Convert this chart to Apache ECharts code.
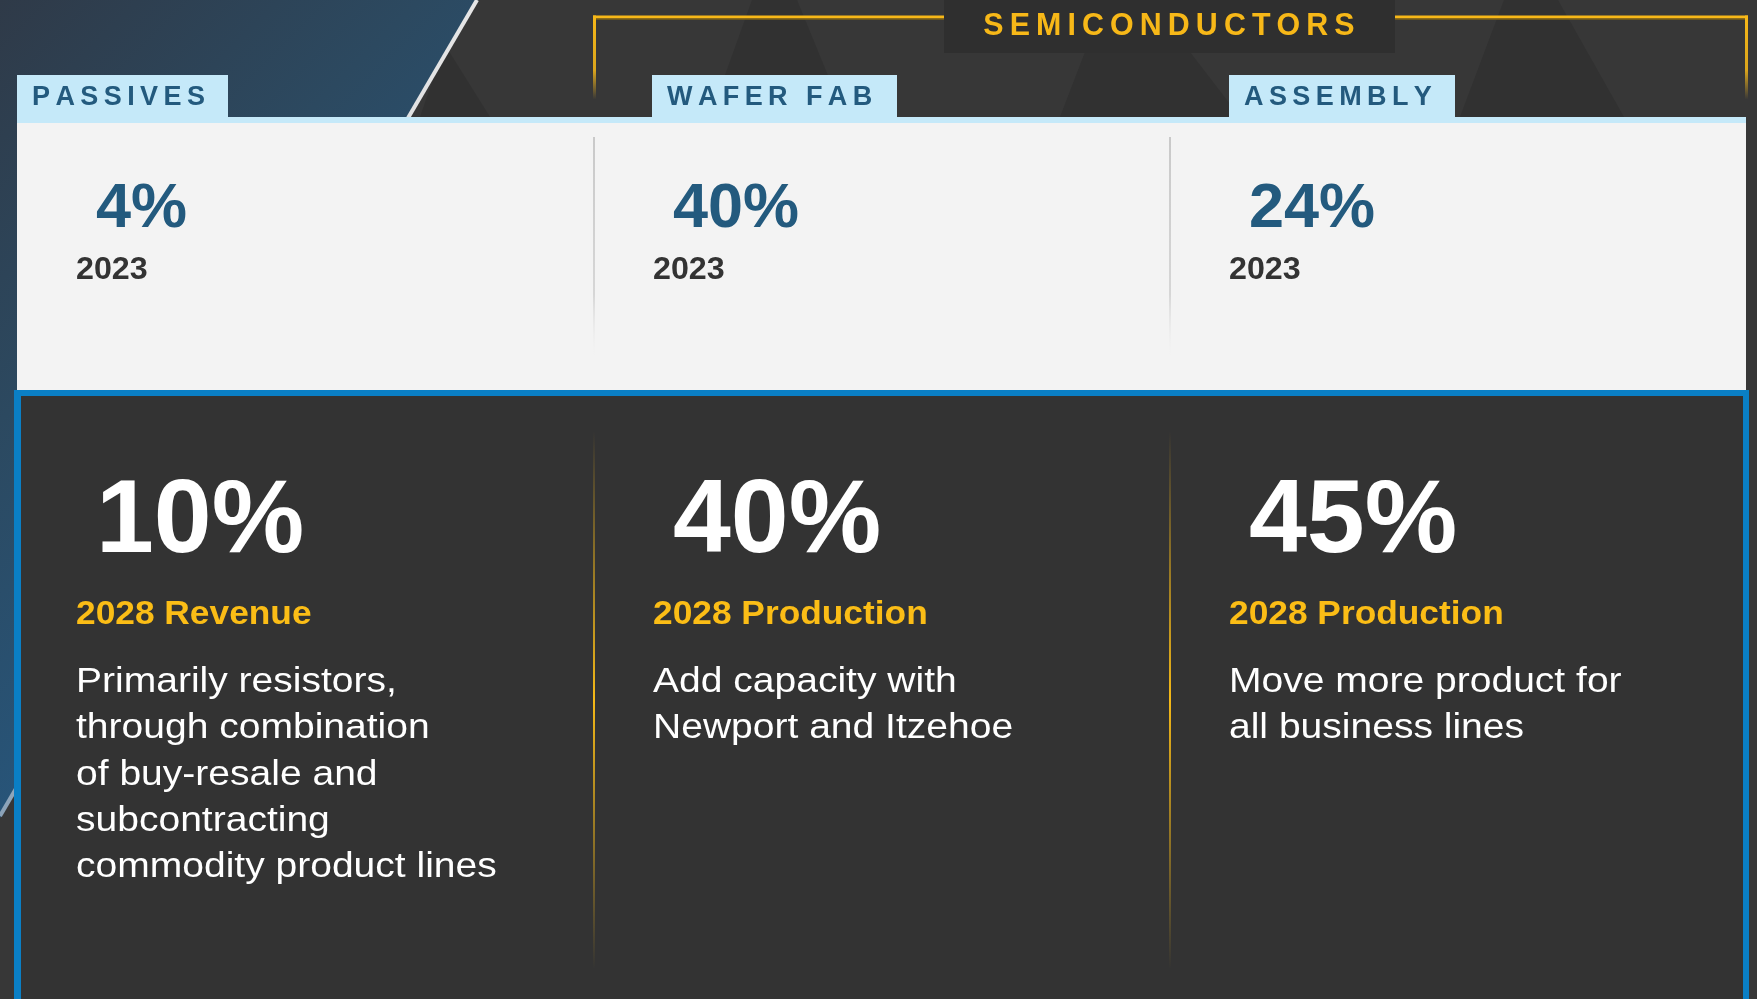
<!DOCTYPE html>
<html lang="en">
<head>
<meta charset="UTF-8">
<title>Passives and semiconductors</title>
<script src="https://cdn.jsdelivr.net/npm/echarts@6.0.0/dist/echarts.min.js"></script>
<style>
  html, body { margin: 0; padding: 0; background: #373737; }
  #main { width: 1757px; height: 999px; }
</style>
</head>
<body>
<div id="main"></div>
<script>
// values
var segments = ['PASSIVES', 'WAFER FAB', 'ASSEMBLY'];
var groupTitle = 'SEMICONDUCTORS';
var share2023 = [4, 40, 24];
var yearLabel = '2023';
var share2028 = [10, 40, 45];
var measures2028 = ['2028 Revenue', '2028 Production', '2028 Production'];
var notes = [
  ['Primarily resistors,', 'through combination', 'of buy-resale and', 'subcontracting', 'commodity product lines'],
  ['Add capacity with', 'Newport and Itzehoe'],
  ['Move more product for', 'all business lines']
];

// layout
var colLeft = [76, 653, 1229];
var tabLeft = [17, 652, 1229];
var tabWidth = [211, 245, 226];
var dividerX = [594, 1170];
var FONT = '"Liberation Sans", Arial, Helvetica, sans-serif';
var GOLD = '#f7b818';
var BLUE_TXT = '#235a7e';

function spaced(s) {
  // wide tracking for the caps headings
  return s.split('').join('\u2009');
}

function label(x, base, text, size, color, weight, opts) {
  opts = opts || {};
  var el = {
    type: 'text',
    x: x,
    y: base + 3 - 0.36 * size,
    style: {
      text: text,
      fill: color,
      font: weight + ' ' + size + 'px ' + FONT,
      align: opts.align || 'left',
      textAlign: opts.align || 'left',
      verticalAlign: 'middle',
      textVerticalAlign: 'middle'
    }
  };
  if (opts.scaleX) el.scaleX = opts.scaleX;
  return el;
}

var els = [];

// background and faint triangles
els.push({ type: 'rect', shape: { x: 0, y: 0, width: 1757, height: 999 }, style: { fill: '#373737' } });
[
  [[752, 0], [797, 0], [845, 117], [710, 117]],
  [[1105, 0], [1150, 0], [1240, 117], [1060, 117]],
  [[1504, 0], [1558, 0], [1624, 117], [1460, 117]],
  [[445, 45], [490, 117], [420, 117]]
].forEach(function (pts) {
  els.push({ type: 'polygon', shape: { points: pts }, style: { fill: '#313131' } });
});

// blue wedge on the left + diagonal line
els.push({
  type: 'polygon',
  shape: { points: [[0, 0], [478, 0], [0, 818]] },
  style: {
    fill: new echarts.graphic.LinearGradient(0, 0, 420, 420, [
      { offset: 0, color: '#2f3a48' },
      { offset: 0.5, color: '#2c4960' },
      { offset: 1, color: '#27557a' }
    ], true)
  }
});
els.push({
  type: 'line',
  shape: { x1: 477, y1: 0, x2: 0, y2: 816 },
  style: {
    lineWidth: 4,
    stroke: new echarts.graphic.LinearGradient(477, 0, 0, 816, [
      { offset: 0, color: '#e6e6e6' },
      { offset: 0.6, color: '#d0d4d8' },
      { offset: 1, color: '#8aa2b8' }
    ], true)
  }
});

// SEMICONDUCTORS header and bracket
els.push({ type: 'rect', shape: { x: 944, y: 0, width: 451, height: 53 }, style: { fill: '#2f2f2f' } });
els.push({ type: 'rect', shape: { x: 593, y: 15.5, width: 351, height: 3 }, style: { fill: GOLD } });
els.push({ type: 'rect', shape: { x: 1395, y: 15.5, width: 353, height: 3 }, style: { fill: GOLD } });
els.push({ type: 'rect', shape: { x: 596, y: 18.5, width: 348, height: 1.2 }, style: { fill: '#7d6115' } });
els.push({ type: 'rect', shape: { x: 1395, y: 18.5, width: 350, height: 1.2 }, style: { fill: '#7d6115' } });
[593, 1745].forEach(function (x) {
  els.push({
    type: 'rect',
    shape: { x: x, y: 15.5, width: 3, height: 84 },
    style: {
      fill: new echarts.graphic.LinearGradient(0, 0, 0, 1, [
        { offset: 0, color: GOLD },
        { offset: 0.65, color: 'rgba(247,184,24,0.85)' },
        { offset: 1, color: 'rgba(247,184,24,0)' }
      ])
    }
  });
});
els.push(label(1169, 35, spaced(groupTitle), 32, GOLD, 'bold', { align: 'center', scaleX: 0.95 }));

// top light panel
els.push({ type: 'rect', shape: { x: 17, y: 117, width: 1729, height: 7 }, style: { fill: '#c5e9f9' } });
els.push({ type: 'rect', shape: { x: 17, y: 123, width: 1729, height: 268 }, style: { fill: '#f3f3f3' } });
dividerX.forEach(function (x) {
  els.push({
    type: 'rect',
    shape: { x: x - 1, y: 137, width: 2, height: 225 },
    style: {
      fill: new echarts.graphic.LinearGradient(0, 0, 0, 1, [
        { offset: 0, color: '#c9c9c9' },
        { offset: 0.7, color: '#d6d6d6' },
        { offset: 1, color: 'rgba(243,243,243,0)' }
      ])
    }
  });
});

// lower dark box with blue frame
els.push({ type: 'rect', shape: { x: 14, y: 390, width: 1735, height: 620 }, style: { fill: '#0a7fc5' } });
els.push({ type: 'rect', shape: { x: 21, y: 396, width: 1722, height: 620 }, style: { fill: '#333333' } });
dividerX.forEach(function (x) {
  els.push({
    type: 'rect',
    shape: { x: x - 1, y: 431, width: 2, height: 538 },
    style: {
      fill: new echarts.graphic.LinearGradient(0, 0, 0, 1, [
        { offset: 0, color: 'rgba(245,185,23,0)' },
        { offset: 0.5, color: '#f5b917' },
        { offset: 1, color: 'rgba(245,185,23,0)' }
      ])
    }
  });
});

// columns
segments.forEach(function (name, i) {
  var x = colLeft[i];
  els.push({ type: 'rect', shape: { x: tabLeft[i], y: 75, width: tabWidth[i], height: 43 }, style: { fill: '#c5e9f9' } });
  els.push(label(tabLeft[i] + 15, 104, spaced(name), 27, BLUE_TXT, 'bold', { scaleX: 1.0 }));

  els.push(label(x + 20, 229, share2023[i] + '%', 63, BLUE_TXT, 'bold'));
  els.push(label(x, 279, yearLabel, 31, '#333333', 'bold', { scaleX: 1.04 }));

  els.push(label(x + 20, 558, share2028[i] + '%', 104, '#ffffff', 'bold'));
  els.push(label(x, 624, measures2028[i], 33, '#fbbd16', 'bold', { scaleX: 1.07 }));
  notes[i].forEach(function (line, k) {
    els.push(label(x, 692 + k * 46.3, line, 35, '#ffffff', 'normal', { scaleX: 1.115 }));
  });
});

var myChart = echarts.init(document.getElementById('main'), null, { renderer: 'canvas' });
var option = {
  backgroundColor: '#373737',
  animation: false,
  graphic: { elements: els }
};
myChart.setOption(option);
</script>
</body>
</html>
